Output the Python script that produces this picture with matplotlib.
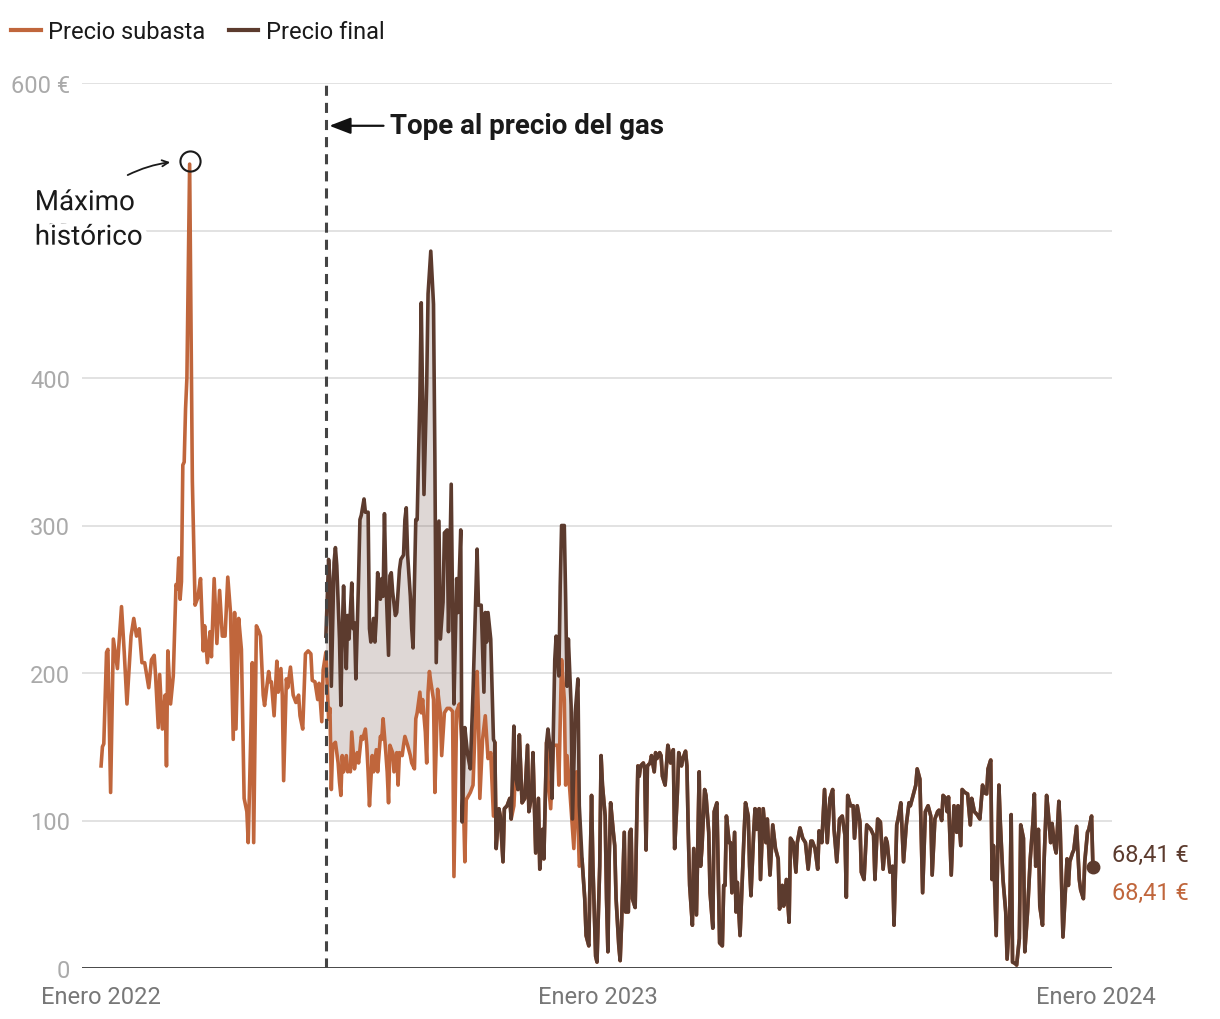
import numpy as np
import matplotlib.pyplot as plt
import matplotlib.patheffects as pe
from matplotlib.lines import Line2D

plt.rcParams['font.family'] = ['Roboto', 'DejaVu Sans']

naranja = '#c0663c'
marron = '#5c3b2e'

inicio = np.datetime64('2022-01-01')
tope = np.datetime64('2022-06-15')

# Precio subasta (€/MWh), días desde el 1 de enero de 2022, hasta mediados de dic. 2022
dias_subasta = [
    0, 1, 2, 4, 5, 7, 9, 12, 13, 15, 17, 19, 22, 24, 26, 28, 30, 32, 35, 37,
    39, 40, 42, 43, 45, 47, 48, 49, 51, 53, 55, 56, 57, 58, 59, 60, 61, 62, 63, 65,
    67, 69, 71, 73, 75, 76, 78, 80, 81, 83, 85, 87, 89, 91, 93, 95, 97, 98, 99, 101,
    103, 105, 107, 108, 110, 111, 112, 114, 116, 117, 119, 120, 123, 124, 125, 127, 129, 130, 132, 133,
    134, 136, 137, 139, 141, 143, 145, 146, 148, 150, 152, 154, 155, 157, 159, 160, 162, 163,
    165, 167, 168, 169, 170, 172, 174, 175, 176, 177, 178, 180, 181, 182, 183, 184, 186, 187, 188, 189,
    191, 192, 194, 195, 196, 197, 199, 200, 202, 203, 205, 206, 207, 209, 210, 211, 212, 214, 215, 217,
    218, 219, 221, 222, 223, 225, 227, 228, 230, 231, 232, 234, 235, 236, 238, 239, 240, 241, 242, 244,
    245, 246, 247, 249, 250, 252, 254, 256, 258, 259, 261, 263, 265, 267, 268, 271, 273, 276, 277, 278,
    280, 282, 284, 286, 288, 289, 290, 292, 293, 295, 296, 298, 300, 301, 303, 304, 306, 307, 309, 311,
    313, 314, 316, 317, 319, 321, 322, 324, 325, 327, 328, 330, 332, 335, 336, 338, 340, 341, 342, 344,
    347, 349, 351,
]
subasta = [
    137, 150, 152, 214, 216, 119, 223, 203, 218, 245, 214, 179, 225, 237, 225, 230, 207, 207, 190, 209,
    212, 198, 163, 199, 162, 185, 137, 215, 179, 198, 260, 257, 278, 250, 262, 341, 343, 379, 400, 545,
    330, 246, 251, 264, 215, 232, 207, 228, 211, 264, 220, 256, 225, 225, 265, 241, 155, 241, 162, 237,
    216, 115, 106, 85, 162, 207, 85, 232, 228, 225, 185, 178, 201, 194, 194, 171, 208, 187, 203, 185,
    127, 196, 190, 204, 185, 180, 185, 171, 162, 213, 215, 213, 195, 194, 182, 193, 167, 202,
    214, 169, 176, 121, 151, 153, 139, 126, 117, 144, 133, 144, 133, 135, 133, 160, 135, 142, 146, 139,
    157, 155, 162, 151, 133, 110, 144, 133, 148, 133, 157, 155, 169, 146, 133, 112, 151, 146, 133, 146,
    124, 146, 144, 151, 157, 151, 144, 139, 135, 169, 173, 187, 173, 182, 160, 139, 187, 201, 194, 182,
    119, 151, 189, 173, 144, 173, 176, 176, 174, 62, 174, 179, 150, 72, 114, 119, 124, 201, 171, 115,
    155, 171, 142, 146, 103, 153, 81, 108, 103, 72, 108, 110, 115, 101, 110, 130, 121, 158, 112, 115,
    151, 106, 117, 146, 78, 115, 67, 94, 74, 153, 128, 108, 151, 151, 124, 209, 182, 124, 144, 121,
    81, 133, 69,
]

# Precio final (subasta + compensación del tope al gas)
dias_final = [
    165, 167, 168, 169, 171, 172, 173, 175, 176, 177, 178, 180, 181, 182, 184, 185, 186, 187, 189, 190,
    191, 193, 194, 196, 197, 198, 200, 201, 202, 203, 205, 206, 207, 208, 209, 211, 212, 213, 214, 216,
    217, 219, 220, 222, 223, 224, 225, 227, 228, 229, 231, 232, 234, 235, 237, 239, 240, 242, 244, 245,
    246, 248, 249, 251, 252, 254, 255, 257, 258, 259, 261, 262, 264, 265, 267, 269, 271, 273, 276, 277,
    279, 281, 282, 283, 284, 286, 288, 289, 290, 292, 293, 295, 296, 298, 300, 301, 303, 304, 306, 307,
    309, 311, 313, 314, 316, 317, 319, 321, 322, 324, 325, 327, 328, 330, 331, 333, 334, 336, 337, 338,
    340, 341, 342, 343, 345, 346, 348, 350, 351,
]
final = [
    225, 277, 264, 191, 275, 285, 273, 223, 178, 228, 259, 203, 239, 223, 261, 230, 234, 196, 264, 304,
    307, 318, 309, 309, 230, 221, 237, 221, 237, 268, 250, 264, 252, 308, 264, 212, 266, 268, 255, 239,
    241, 270, 277, 280, 304, 312, 280, 252, 230, 217, 304, 304, 388, 451, 321, 396, 457, 486, 450, 347,
    207, 303, 223, 248, 295, 297, 228, 328, 243, 179, 264, 241, 297, 99, 163, 145, 135, 187, 284, 246,
    246, 187, 241, 221, 241, 223, 155, 153, 81, 108, 103, 72, 108, 110, 115, 101, 164, 130, 121, 158,
    112, 115, 151, 106, 117, 146, 78, 115, 67, 94, 74, 153, 162, 146, 115, 209, 225, 198, 259, 300,
    300, 250, 191, 223, 178, 101, 173, 196, 110,
]

# Desde mediados de diciembre de 2022 ambos precios coinciden
dias_comun = [
    353, 355, 356, 358, 359, 360, 361, 363, 364, 366, 367, 368, 370, 371, 372, 373, 374, 376, 377, 378,
    380, 381, 382, 384, 385, 387, 388, 389, 390, 392, 393, 394, 395, 396, 398, 399, 400, 401, 403, 404,
    406, 407, 408, 410, 411, 412, 414, 416, 417, 418, 420, 421, 423, 424, 426, 427, 429, 430, 431, 432,
    434, 435, 437, 439, 440, 441, 443, 444, 446, 447, 449, 450, 452, 453, 454, 456, 457, 458, 459, 461,
    462, 463, 465, 466, 467, 469, 470, 472, 473, 475, 476, 477, 479, 480, 481, 483, 484, 486, 488, 489,
    491, 493, 495, 497, 498, 500, 501, 503, 505, 506, 508, 510, 511, 513, 515, 517, 519, 521, 522, 524,
    526, 527, 529, 531, 533, 535, 537, 538, 540, 542, 544, 546, 547, 548, 550, 552, 553, 555, 557, 558,
    560, 562, 565, 567, 568, 570, 572, 574, 576, 577, 579, 581, 582, 584, 585, 587, 589, 591, 593, 594,
    596, 598, 599, 601, 603, 605, 607, 609, 610, 612, 614, 615, 617, 618, 620, 621, 622, 624, 626, 628,
    629, 631, 632, 634, 636, 638, 639, 641, 643, 645, 647, 648, 650, 651, 653, 654, 655, 657, 659, 660,
    662, 664, 665, 667, 668, 669, 671, 672, 674, 675, 677, 678, 680, 682, 684, 685, 686, 688, 689, 691,
    692, 694, 695, 697, 698, 700, 701, 703, 704, 706, 708, 709, 710, 711, 713, 714, 716, 718, 719, 721,
    722, 724, 725, 727, 728,
]
precio_comun = [
    74, 47, 22, 15, 69, 117, 69, 8, 4, 69, 144, 124, 103, 47, 11, 76, 112, 92, 83, 47,
    15, 5, 29, 92, 38, 38, 92, 94, 47, 41, 92, 137, 130, 137, 139, 135, 80, 137, 139, 144,
    133, 146, 142, 146, 144, 130, 124, 151, 146, 139, 148, 81, 119, 146, 137, 142, 147, 137, 92, 56,
    29, 81, 36, 133, 69, 81, 121, 117, 92, 51, 27, 106, 112, 63, 17, 15, 56, 56, 103, 85,
    85, 51, 92, 38, 58, 22, 45, 92, 112, 103, 69, 49, 92, 108, 94, 108, 60, 108, 85, 101,
    63, 97, 81, 74, 40, 56, 42, 60, 31, 88, 85, 65, 85, 95, 88, 85, 67, 86, 86, 81,
    67, 93, 85, 121, 85, 115, 121, 94, 72, 101, 103, 90, 48, 117, 110, 110, 88, 110, 99, 65,
    60, 97, 94, 90, 60, 101, 99, 67, 88, 85, 65, 69, 29, 97, 101, 112, 72, 97, 112, 110,
    117, 124, 135, 128, 51, 106, 110, 103, 63, 101, 106, 107, 100, 117, 115, 106, 116, 63, 110, 92,
    110, 83, 121, 119, 118, 97, 115, 106, 104, 101, 124, 119, 118, 135, 141, 60, 83, 22, 124, 99,
    60, 38, 6, 38, 104, 4, 3, 2, 20, 97, 88, 11, 38, 74, 99, 118, 69, 94, 42, 29,
    69, 117, 108, 85, 98, 82, 78, 113, 94, 21, 56, 74, 56, 72, 78, 80, 96, 60, 53, 47,
    72, 92, 94, 103, 68.41,
]

ticks_y = [0, 100, 200, 300, 400, 500, 600]
etiquetas_y = ['0', '100', '200', '300', '400', '500', '600 €']
ticks_x = ['2022-01-01', '2023-01-01', '2024-01-01']
etiquetas_x = ['Enero 2022', 'Enero 2023', 'Enero 2024']


def fechas(dias):
    return inicio + np.array(dias).astype('timedelta64[D]')


x_sub = fechas(dias_subasta + dias_comun)
y_sub = np.array(subasta + precio_comun, dtype=float)
x_fin = fechas(dias_final + dias_comun)
y_fin = np.array(final + precio_comun, dtype=float)

fig = plt.figure(figsize=(12.2, 10.2), dpi=100)
ax = fig.add_axes([82 / 1220, 51 / 1020, 1030 / 1220, 885 / 1020])

# zona sombreada entre precio final y precio subasta durante el tope
en_tope = np.array(dias_subasta) >= dias_final[0]
poly_x = np.concatenate([fechas(dias_final), fechas(dias_subasta)[en_tope][::-1]])
poly_y = np.concatenate([final, np.array(subasta)[en_tope][::-1]])
ax.fill(poly_x, poly_y, color=marron, alpha=0.2, lw=0, zorder=1)

for v in ticks_y[1:]:
    ax.axhline(v, color='#e2e2e2', lw=1.4, zorder=0)
ax.axhline(0, color='#111111', lw=1.8, zorder=6)

ax.plot(x_sub, y_sub, color=naranja, lw=2.6, zorder=4, solid_joinstyle='round')
ax.plot(x_fin, y_fin, color=marron, lw=2.6, zorder=5, solid_joinstyle='round')

ax.axvline(tope, color='#444444', lw=2.2, ls=(0, (3.3, 2.3)), zorder=7)

ax.set_xlim(inicio - np.timedelta64(14, 'D'), inicio + np.timedelta64(742, 'D'))
ax.set_ylim(0, 600)
for s in ax.spines.values():
    s.set_visible(False)

ax.set_yticks(ticks_y)
ax.set_yticklabels(etiquetas_y)
ax.set_xticks(np.array(ticks_x, dtype='datetime64[D]'))
ax.set_xticklabels(etiquetas_x)
ax.tick_params(axis='y', length=0, pad=8.5, labelsize=17, labelcolor='#aaaaaa')
ax.tick_params(axis='x', length=0, pad=12.5, labelsize=17, labelcolor='#777777')

# máximo histórico
i_max = int(np.argmax(y_sub))
ax.plot(x_sub[i_max], y_sub[i_max] + 2, 'o', mfc='none', mec='#1a1a1a', mew=1.5, ms=14.5, zorder=8)
ax.annotate('Máximo\nhistórico', xy=(x_sub[i_max], y_sub[i_max]), xytext=(-111.5, -18),
            textcoords='offset points', ha='left', va='top', fontsize=20, color='#1a1a1a',
            linespacing=1.36, zorder=9,
            path_effects=[pe.withStroke(linewidth=9, foreground='white')])
ax.annotate('', xy=(x_sub[i_max], y_sub[i_max] + 2), xytext=(-44.6, -10),
            textcoords='offset points', zorder=9,
            arrowprops=dict(arrowstyle='->,head_length=0.45,head_width=0.22', color='#1a1a1a',
                            lw=1.3, shrinkA=0, shrinkB=14, connectionstyle='arc3,rad=-0.12'))

# tope al precio del gas
ax.annotate('Tope al precio del gas', xy=(tope, 571), xytext=(46.5, 0),
            textcoords='offset points', ha='left', va='center', fontsize=20,
            fontweight='bold', color='#1a1a1a', zorder=9,
            arrowprops=dict(arrowstyle='-|>,head_length=0.65,head_width=0.25', color='#111111',
                            lw=1.6, shrinkA=3, shrinkB=2.5))

# valores finales
ax.plot(x_fin[-1], y_fin[-1], 'o', color=marron, ms=9, zorder=8)
etiqueta = f'{y_fin[-1]:.2f}'.replace('.', ',') + ' €'
ax.annotate(etiqueta, xy=(x_fin[-1], y_fin[-1]), xytext=(14, 9), textcoords='offset points',
            ha='left', va='center', fontsize=17, color=marron, annotation_clip=False)
etiqueta = f'{y_sub[-1]:.2f}'.replace('.', ',') + ' €'
ax.annotate(etiqueta, xy=(x_sub[-1], y_sub[-1]), xytext=(14, -18), textcoords='offset points',
            ha='left', va='center', fontsize=17, color=naranja, annotation_clip=False)

manejadores = [Line2D([], [], color=naranja, lw=3), Line2D([], [], color=marron, lw=3)]
fig.legend(manejadores, ['Precio subasta', 'Precio final'], loc='upper left',
           bbox_to_anchor=(-0.008, 1.0), ncol=2, frameon=False, fontsize=17,
           handlelength=1.25, handletextpad=0.3, columnspacing=1.0, labelcolor='#1a1a1a')

fig.savefig('out.png', dpi=100)
